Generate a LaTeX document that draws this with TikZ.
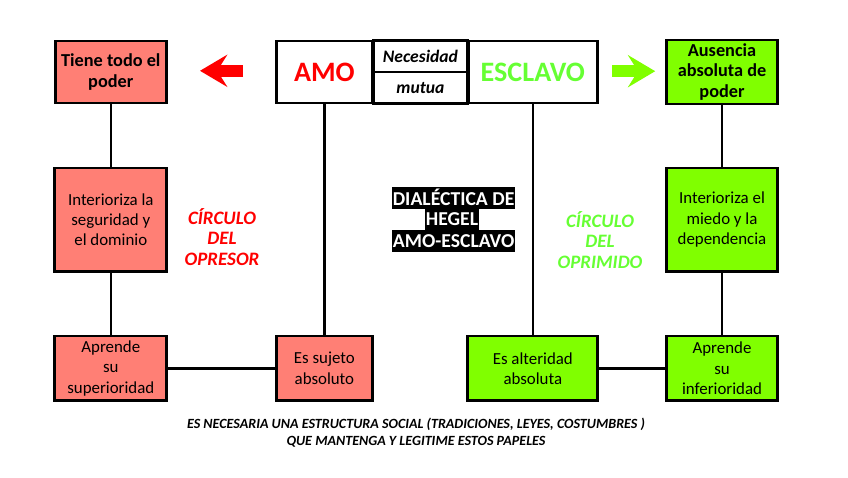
\documentclass[tikz,border=0pt]{standalone}
\usepackage{fontspec}
\setmainfont{Carlito}
\usetikzlibrary{arrows.meta}

\definecolor{opresorFill}{RGB}{255,127,117}
\definecolor{oprimidoFill}{RGB}{128,255,0}
\definecolor{amoRed}{RGB}{255,0,0}
\definecolor{esclavoGreen}{RGB}{102,255,51}

\begin{document}
\begin{tikzpicture}[
    font=\fontsize{12pt}{14.5pt}\selectfont,
    opresorBox/.style={
        rectangle,
        draw=black,
        fill=opresorFill,
        line width=2pt,
        align=center,
        inner sep=2pt
    },
    oprimidoBox/.style={
        rectangle,
        draw=black,
        fill=oprimidoFill,
        line width=2pt,
        align=center,
        inner sep=2pt
    },
    roleBox/.style={
        rectangle,
        draw=black,
        fill=white,
        line width=2pt,
        minimum height=1.55cm,
        font=\fontsize{20pt}{22pt}\selectfont\bfseries
    },
    mutualBox/.style={
        rectangle,
        draw=black,
        line width=2pt,
        minimum width=2.35cm,
        minimum height=0.78cm,
        font=\fontsize{12.5pt}{14pt}\selectfont\bfseries\itshape
    },
    linkLine/.style={
        draw=black,
        line width=1.6pt
    },
    bigArrow/.style={
        line width=0.3cm,
        -{Stealth[length=0.68cm, width=0.8cm, inset=0.25cm]}
    },
    circleLabel/.style={
        align=center,
        font=\fontsize{13.5pt}{14.5pt}\selectfont\bfseries\itshape
    },
    titleStrip/.style={
        fill=black,
        text=white,
        font=\fontsize{14pt}{15pt}\selectfont\bfseries,
        inner xsep=0.5pt,
        inner ysep=0pt,
        minimum height=0.55cm
    }
]
\useasboundingbox (0,0) rectangle (21.2,-11.925);

% ==================== TOP ROW ====================
\node[opresorBox, font=\fontsize{13pt}{14.5pt}\selectfont\bfseries, minimum width=2.78cm, minimum height=1.55cm] (poderBox) at (2.77, -1.8) {Tiene todo el\\poder};
\node[roleBox, text=amoRed, minimum width=2.4cm] (amoBox) at (8.11, -1.8) {AMO};
\node[mutualBox] (necesidadBox) at (10.51, -1.41) {Necesidad};
\node[mutualBox] (mutuaBox) at (10.51, -2.19) {mutua};
\node[roleBox, text=esclavoGreen, minimum width=3.22cm] (esclavoBox) at (13.32, -1.8) {ESCLAVO};
\node[oprimidoBox, font=\fontsize{13pt}{14.5pt}\selectfont\bfseries, minimum width=2.78cm, minimum height=1.6cm] (ausenciaBox) at (18.05, -1.8) {Ausencia\\absoluta de\\poder};

% Block arrows
\coordinate (redTail) at (6.08, -1.77);
\coordinate (redHead) at (5.0, -1.77);
\coordinate (greenTail) at (15.3, -1.78);
\coordinate (greenHead) at (16.38, -1.78);
\draw[bigArrow, draw=amoRed] (redTail) -- (redHead);
\draw[bigArrow, draw=oprimidoFill] (greenTail) -- (greenHead);

% ==================== MIDDLE ROW ====================
\node[opresorBox, minimum width=2.8cm, minimum height=2.58cm] (interLa) at (2.77, -5.49) {Interioriza la\\seguridad y\\el dominio};
\node[oprimidoBox, minimum width=2.78cm, minimum height=2.58cm] (interEl) at (18.05, -5.49) {Interioriza el\\miedo y la\\dependencia};

\node[circleLabel, text=amoRed] (opresorLabel) at (5.55, -5.92) {CÍRCULO\\DEL\\OPRESOR};
\node[circleLabel, text=esclavoGreen] (oprimidoLabel) at (15.0, -6.0) {CÍRCULO\\DEL\\OPRIMIDO};

% Title in the middle
\node[titleStrip] (titleA) at (11.34, -4.94) {DIALÉCTICA DE};
\node[titleStrip] (titleB) at (11.3, -5.47) {HEGEL};
\node[titleStrip] (titleC) at (11.34, -6.02) {AMO-ESCLAVO};

% ==================== BOTTOM ROW ====================
\node[opresorBox, minimum width=2.8cm, minimum height=1.62cm] (aprSup) at (2.77, -9.21) {Aprende\\su\\superioridad};
\node[opresorBox, minimum width=2.4cm, minimum height=1.62cm] (sujetoBox) at (8.11, -9.21) {Es sujeto\\absoluto};
\node[oprimidoBox, minimum width=3.25cm, minimum height=1.62cm] (alteridadBox) at (13.32, -9.21) {Es alteridad\\absoluta};
\node[oprimidoBox, minimum width=2.78cm, minimum height=1.62cm] (aprInf) at (18.05, -9.21) {Aprende\\su\\inferioridad};

% Connections
\draw[linkLine] (poderBox.south) -- (interLa.north);
\draw[linkLine] (interLa.south) -- (aprSup.north);
\draw[linkLine] (aprSup.east) -- (sujetoBox.west);
\draw[linkLine] (amoBox.south) -- (sujetoBox.north);
\draw[linkLine] (esclavoBox.south) -- (alteridadBox.north);
\draw[linkLine] (alteridadBox.east) -- (aprInf.west);
\draw[linkLine] (aprInf.north) -- (interEl.south);
\draw[linkLine] (interEl.north) -- (ausenciaBox.south);

% ==================== FOOTER ====================
\node[align=center, font=\fontsize{10pt}{12pt}\selectfont\bfseries\itshape] (footNote) at (10.4, -10.82) {ES NECESARIA UNA ESTRUCTURA SOCIAL (TRADICIONES, LEYES, COSTUMBRES )\\QUE MANTENGA Y LEGITIME ESTOS PAPELES};

\end{tikzpicture}
\end{document}
